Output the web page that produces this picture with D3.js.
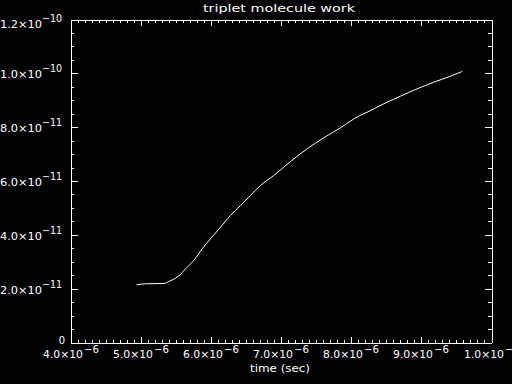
<!DOCTYPE html>
<html><head><meta charset="utf-8">
<script src="https://cdn.jsdelivr.net/npm/d3@7"></script>
<style>html,body{margin:0;padding:0;background:#000;overflow:hidden}</style>
</head><body>
<svg id="c" width="512" height="384"></svg>
<script>
const title = "triplet molecule work";
const xTitle = "time (sec)";
const timeSec = [4.941e-6,5.069e-6,5.330e-6,5.401e-6,5.496e-6,5.568e-6,5.639e-6,5.757e-6,5.877e-6,5.995e-6,6.138e-6,6.280e-6,6.423e-6,6.565e-6,6.708e-6,6.897e-6,7.136e-6,7.373e-6,7.610e-6,7.848e-6,8.123e-6,8.228e-6,8.465e-6,8.703e-6,8.941e-6,9.178e-6,9.415e-6,9.582e-6];
const work = [2.144e-11,2.181e-11,2.192e-11,2.266e-11,2.389e-11,2.53e-11,2.738e-11,3.047e-11,3.481e-11,3.853e-11,4.284e-11,4.719e-11,5.090e-11,5.462e-11,5.834e-11,6.205e-11,6.725e-11,7.197e-11,7.606e-11,7.977e-11,8.434e-11,8.557e-11,8.869e-11,9.151e-11,9.426e-11,9.671e-11,9.894e-11,10.069e-11];
const xTicks = [4e-6,5e-6,6e-6,7e-6,8e-6,9e-6,1e-5];
const xTickMant = ["4.0×10","5.0×10","6.0×10","7.0×10","8.0×10","9.0×10","1.0×10"];
const xTickExp = ["−6","−6","−6","−6","−6","−6","−5"];
const yTicks = [0,2e-11,4e-11,6e-11,8e-11,1e-10,1.2e-10];
const yTickMant = ["0","2.0×10","4.0×10","6.0×10","8.0×10","1.0×10","1.2×10"];
const yTickExp = ["","−11","−11","−11","−11","−10","−10"];

const svg = d3.select("#c");
const FONT = "DejaVu Sans";
const L=70.5, R=491.5, T=19.5, B=342.5;
const x = d3.scaleLinear().domain([4e-6,1e-5]).range([L,R]);
const y = d3.scaleLinear().domain([0,1.2e-10]).range([B,T]);
const xMinor = d3.range(0,61).map(i=>4e-6+i*1e-7);
const yMinor = d3.range(0,25).map(i=>i*5e-12);

function styleAxis(g){
  g.selectAll("path,line").attr("stroke","#fff").attr("stroke-width",1).attr("shape-rendering","crispEdges");
  g.selectAll("text").remove();
}
svg.append("g").attr("transform",`translate(0,${B})`).call(d3.axisBottom(x).tickValues(xMinor).tickSize(-3).tickSizeOuter(0).tickFormat("")).call(styleAxis);
svg.append("g").attr("transform",`translate(0,${B})`).call(d3.axisBottom(x).tickValues(xTicks).tickSize(-6).tickSizeOuter(0).tickFormat("")).call(styleAxis);
svg.append("g").attr("transform",`translate(0,${T})`).call(d3.axisTop(x).tickValues(xMinor).tickSize(-3).tickSizeOuter(0).tickFormat("")).call(styleAxis);
svg.append("g").attr("transform",`translate(0,${T})`).call(d3.axisTop(x).tickValues(xTicks).tickSize(-6).tickSizeOuter(0).tickFormat("")).call(styleAxis);
svg.append("g").attr("transform",`translate(${L},0)`).call(d3.axisLeft(y).tickValues(yMinor).tickSize(-3.5).tickSizeOuter(0).tickFormat("")).call(styleAxis);
svg.append("g").attr("transform",`translate(${L},0)`).call(d3.axisLeft(y).tickValues(yTicks).tickSize(-7).tickSizeOuter(0).tickFormat("")).call(styleAxis);
svg.append("g").attr("transform",`translate(${R},0)`).call(d3.axisRight(y).tickValues(yMinor).tickSize(-4).tickSizeOuter(0).tickFormat("")).call(styleAxis);
svg.append("g").attr("transform",`translate(${R},0)`).call(d3.axisRight(y).tickValues(yTicks).tickSize(-7).tickSizeOuter(0).tickFormat("")).call(styleAxis);

function txt(s,xp,yp,anchor,len,size){
  const t = svg.append("text").attr("x",xp).attr("y",yp).attr("fill","#fff")
    .attr("font-family",FONT).attr("font-size",size||10).attr("text-anchor",anchor).text(s);
  if(len){ t.attr("textLength",len).attr("lengthAdjust","spacingAndGlyphs"); }
  return t;
}
xTicks.forEach((v,i)=>{
  const cx = Math.round(x(v));
  txt(xTickMant[i], cx+12, 358, "end", 40, 10);
  txt(xTickExp[i], cx+13, 353, "start", 15, 10);
});
yTicks.forEach((v,i)=>{
  const cy = Math.round(y(v));
  if(yTickExp[i]===""){ txt(yTickMant[i], 65, cy+1, "end", null, 10); return; }
  const off = (i===yTicks.length-1)?3:0;
  txt(yTickMant[i], 42, cy+5+off, "end", 42, 10);
  txt(yTickExp[i], 62, cy-1+off, "end", 20, 10);
});
txt(title, 279, 12, "middle", 152, 10.5);
txt(xTitle, 280, 372, "middle", 60, 10.5);

const pts = timeSec.map((t,i)=>[t,work[i]]);
svg.append("path").datum(pts)
  .attr("d", d3.line().curve(d3.curveMonotoneX).x(d=>x(d[0])).y(d=>y(d[1])))
  .attr("fill","none").attr("stroke","#fff").attr("stroke-width",1);
</script>
</body></html>
